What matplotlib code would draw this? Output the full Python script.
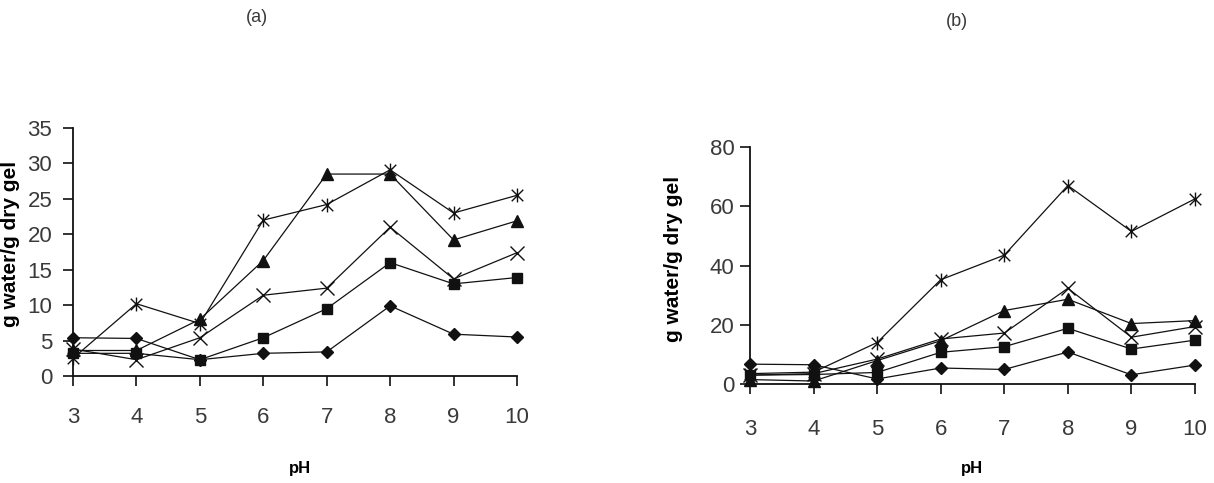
import matplotlib
matplotlib.use("Agg")
import matplotlib.pyplot as plt
from matplotlib.path import Path
from matplotlib import font_manager

names = {f.name for f in font_manager.fontManager.ttflist}
narrow = ['Liberation Sans Narrow', 'Liberation Sans', 'DejaVu Sans'] if 'Liberation Sans Narrow' in names else ['Liberation Sans', 'DejaVu Sans']
plt.rcParams['font.family'] = ['Liberation Sans', 'DejaVu Sans']

ph = [3, 4, 5, 6, 7, 8, 9, 10]

# panel (a)
a_diamond = [5.4, 5.3, 2.3, 3.2, 3.4, 9.9, 5.9, 5.5]
a_square = [3.2, 3.2, 2.3, 5.4, 9.5, 16.0, 13.0, 13.9]
a_triangle = [3.6, 3.6, 8.0, 16.3, 28.5, 28.5, 19.2, 21.9]
a_x = [3.8, 2.3, 5.4, 11.4, 12.4, 21.0, 13.7, 17.4]
a_star = [2.5, 10.2, 7.4, 22.0, 24.2, 29.1, 23.0, 25.5]

# panel (b)
b_diamond = [6.7, 6.5, 1.7, 5.4, 4.9, 10.8, 3.1, 6.4]
b_square = [3.0, 3.2, 3.9, 10.7, 12.6, 18.8, 11.8, 14.8]
b_triangle = [1.5, 1.0, 7.9, 14.6, 24.8, 28.6, 20.4, 21.4]
b_x = [3.0, 3.5, 8.4, 15.2, 17.2, 32.3, 15.8, 19.4]
b_star = [3.5, 4.0, 14.0, 35.2, 43.5, 67.0, 51.5, 62.5]

star = Path([(-1, -1), (1, 1), (-1, 1), (1, -1), (0, -1.2), (0, 1.2)],
            [Path.MOVETO, Path.LINETO, Path.MOVETO, Path.LINETO, Path.MOVETO, Path.LINETO])

W, H = 1214, 483
fig = plt.figure(figsize=(W / 100, H / 100), dpi=100)

def make_axes(l, r, t, b):
    return fig.add_axes([l / W, 1 - b / H, (r - l) / W, (b - t) / H])

ax1 = make_axes(73, 517, 128, 376)
ax2 = make_axes(750, 1195, 147, 384)

def draw(ax, d, s, tr, x, st, ymax, ystep):
    lw = 0.9
    c = '#111111'
    ax.plot(ph, d, color=c, lw=lw, marker='D', ms=6.5, clip_on=False)
    ax.plot(ph, s, color=c, lw=lw, marker='s', ms=7, clip_on=False)
    ax.plot(ph, tr, color=c, lw=lw, marker='^', ms=8.5, clip_on=False)
    ax.plot(ph, x, color=c, lw=lw, marker='x', ms=9.5, mew=1.0, clip_on=False)
    ax.plot(ph, st, color=c, lw=lw, marker=star, ms=10, mew=1.0, mfc='none', clip_on=False)
    ax.set_xlim(3, 10)
    ax.set_ylim(0, ymax)
    ax.set_xticks(ph)
    ax.set_yticks(range(0, ymax + 1, ystep))
    for sp in ['top', 'right']:
        ax.spines[sp].set_visible(False)
    for sp in ['left', 'bottom']:
        ax.spines[sp].set_linewidth(1.3)
        ax.spines[sp].set_color('#111111')
    ax.tick_params(direction='out', length=7, width=1.2, labelsize=16,
                   labelcolor='#3a3a3a', color='#111111')
    for lab in ax.get_xticklabels() + ax.get_yticklabels():
        lab.set_family(narrow)
    ax.patch.set_alpha(0)

draw(ax1, a_diamond, a_square, a_triangle, a_x, a_star, 35, 5)
draw(ax2, b_diamond, b_square, b_triangle, b_x, b_star, 80, 20)
ax1.tick_params(axis='x', pad=15)
ax1.tick_params(axis='y', pad=8)
ax2.tick_params(axis='x', pad=18)
ax2.tick_params(axis='y', pad=4)

fig.text(257 / W, 1 - 18 / H, '(a)', ha='center', va='center', fontsize=13, color='#3a3a3a', family=narrow)
fig.text(957 / W, 1 - 22 / H, '(b)', ha='center', va='center', fontsize=13, color='#3a3a3a', family=narrow)
fig.text(300 / W, 1 - 468 / H, 'pH', ha='center', va='center', fontsize=12, fontweight='bold')
fig.text(972 / W, 1 - 468 / H, 'pH', ha='center', va='center', fontsize=12, fontweight='bold')
fig.text(674 / W, 1 - 259 / H, 'g water/g dry gel', ha='center', va='center', rotation=90,
         fontsize=15, fontweight='bold')
fig.text(11 / W, 1 - 244 / H, 'g water/g dry gel', ha='center', va='center', rotation=90,
         fontsize=15, fontweight='bold')

fig.savefig('out.png', dpi=100)
